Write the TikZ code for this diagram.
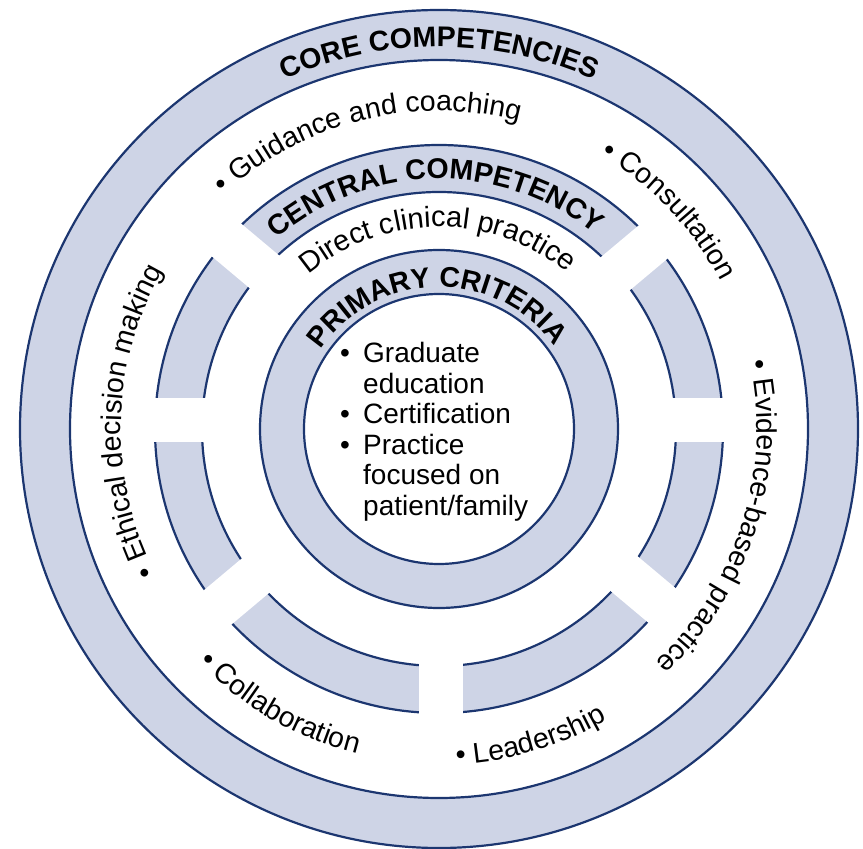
\documentclass[tikz,border=0pt]{standalone}
\usepackage{fontspec}
\setmainfont{Liberation Sans}
\usetikzlibrary{decorations.text}
\definecolor{bandfill}{RGB}{206,212,230}
\definecolor{bandline}{RGB}{28,54,112}
\tikzset{
  ringline/.style={draw=bandline, line width=2.2pt},
  ringfill/.style={fill=bandfill, even odd rule},
  gapbar/.style={fill=white},
}
% clockwise arc text: radius, centre angle, half span, text
\newcommand{\ArcTextCW}[4]{%
  \path[decorate, decoration={text along path, text align=center, text={#4}}]
    (#2+#3:#1pt) arc[start angle=#2+#3, end angle=#2-#3, radius=#1pt];}
% counter-clockwise arc text
\newcommand{\ArcTextCCW}[4]{%
  \path[decorate, decoration={text along path, text align=center, text={#4}}]
    (#2-#3:#1pt) arc[start angle=#2-#3, end angle=#2+#3, radius=#1pt];}
\begin{document}
\begin{tikzpicture}
\useasboundingbox (-439pt,-420pt) rectangle (424pt,429pt);
% outer band
\fill[ringfill] (0,0) circle[radius=419pt] (0,0) circle[radius=369pt];
\draw[ringline] (0,0) circle[radius=419pt];
\draw[ringline] (0,0) circle[radius=369pt];
% middle band
\fill[ringfill] (0,0) circle[radius=284pt] (0,0) circle[radius=237pt];
\draw[ringline] (0,0) circle[radius=284pt];
\draw[ringline] (0,0) circle[radius=237pt];
% inner band
\fill[ringfill] (0,0) circle[radius=179pt] (0,0) circle[radius=135pt];
\draw[ringline] (0,0) circle[radius=179pt];
\draw[ringline] (0,0) circle[radius=135pt];
% gaps in the middle band
\foreach \a in {0,40,140,180,220,270,320} {
  \fill[gapbar, shift={(2pt,9pt)}, rotate=\a] (221pt,-22pt) rectangle (298pt,22pt);
}
% headings
\ArcTextCW{382}{90}{70}{|\fontsize{28.5}{30}\selectfont\bfseries|CORE COMPETENCIES}
\ArcTextCW{250}{91}{70}{|\fontsize{28.5}{30}\selectfont\bfseries|CENTRAL COMPETENCY}
\ArcTextCW{142}{91}{85}{|\fontsize{28.5}{30}\selectfont\bfseries|PRIMARY CRITERIA}
\ArcTextCW{202}{90.4}{70}{|\fontsize{29}{30}\selectfont|Direct clinical practice}
% core competencies
\ArcTextCW{318}{104}{70}{|\fontsize{28.5}{30}\selectfont|• Guidance and coaching}
\ArcTextCW{318}{43.5}{60}{|\fontsize{28.5}{30}\selectfont|• Consultation}
\ArcTextCW{318}{-17.5}{70}{|\fontsize{28.5}{30}\selectfont|• Evidence-based practice}
\ArcTextCCW{336}{-73.5}{50}{|\fontsize{28.5}{30}\selectfont|• Leadership}
\ArcTextCCW{335}{240}{50}{|\fontsize{28.5}{30}\selectfont|• Collaboration}
\ArcTextCW{318}{178.5}{70}{|\fontsize{28.5}{30}\selectfont|• Ethical decision making}
% primary criteria list
\node[anchor=base west, inner sep=0pt, font=\fontsize{28}{30.5}\selectfont] (criteria) at (-99pt,66pt)
  {\begin{tabular}[t]{@{}l@{}l@{}}
   \makebox[23pt][l]{•} & Graduate\\
    & education\\
   \makebox[23pt][l]{•} & Certification\\
   \makebox[23pt][l]{•} & Practice\\
    & focused on\\
    & patient/family
   \end{tabular}};
\end{tikzpicture}
\end{document}
